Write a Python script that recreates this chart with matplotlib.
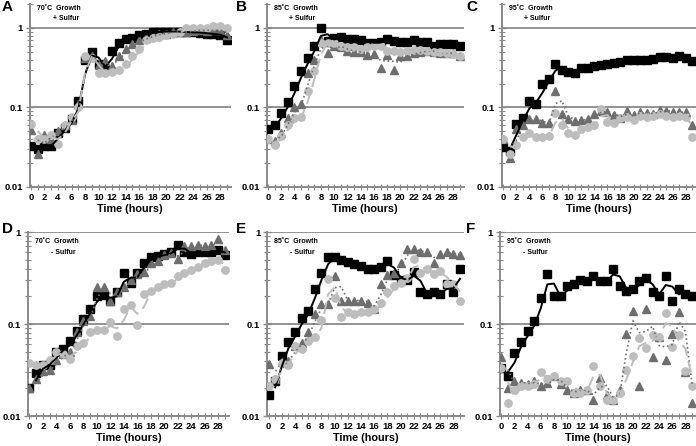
import numpy as np
import pandas as pd
import matplotlib
matplotlib.use('Agg')
import matplotlib.pyplot as plt

plt.rcParams['font.family'] = ['Liberation Sans', 'DejaVu Sans']
plt.rcParams['font.weight'] = 'bold'

hours = list(range(30))

# A: 70C + sulfur
a_sq = [0.033, 0.030, 0.033, 0.033, 0.048, 0.055, 0.072, 0.12, 0.40, 0.50, 0.35, 0.30, 0.52, 0.65, 0.72, 0.75,
        0.82, 0.85, 0.88, 0.90, 0.90, 0.90, 0.90, 0.88, 0.88, 0.87, 0.85, 0.83, 0.82, 0.70]
a_tri = [0.052, 0.026, 0.045, 0.040, 0.050, 0.060, 0.070, 0.11, 0.42, 0.45, 0.34, 0.38, 0.33, 0.45, 0.55, 0.62,
         0.70, 0.75, 0.80, 0.85, 0.85, 0.90, 0.88, 0.90, 0.92, 0.95, 0.92, 0.95, 0.93, 0.82]
a_cir = [0.062, 0.040, 0.040, 0.045, 0.035, 0.060, 0.075, 0.10, 0.45, 0.42, 0.27, 0.27, 0.28, 0.30, 0.35, 0.45,
         0.55, 0.70, 0.75, 0.78, 0.82, 0.85, 0.90, 1.00, 1.00, 1.00, 1.00, 1.05, 1.05, 1.00]

# B: 85C + sulfur
b_sq = [0.054, 0.060, 0.086, 0.117, 0.184, 0.29, 0.42, 0.60, 0.99, 0.68, 0.75, 0.78, 0.73, 0.73, 0.70, 0.65,
        0.65, 0.66, 0.72, 0.68, 0.67, 0.67, 0.70, 0.67, 0.67, 0.60, 0.62, 0.63, 0.63, 0.60]
b_tri = [0.040, 0.038, 0.048, 0.073, 0.10, 0.11, 0.27, 0.40, 0.70, 0.49, 0.60, 0.57, 0.52, 0.50, 0.50, 0.46,
         0.47, 0.31, 0.46, 0.30, 0.44, 0.45, 0.48, 0.50, 0.52, 0.50, 0.48, 0.48, 0.48, 0.45]
b_cir = [0.040, 0.034, 0.044, 0.060, 0.073, 0.075, 0.16, 0.29, 0.64, 0.65, 0.64, 0.60, 0.58, 0.57, 0.55, 0.58,
         0.60, 0.60, 0.51, 0.51, 0.50, 0.52, 0.53, 0.53, 0.52, 0.50, 0.50, 0.48, 0.47, 0.44]

# C: 95C + sulfur
c_sq = [0.032, 0.028, 0.062, 0.074, 0.12, 0.11, 0.195, 0.23, 0.35, 0.30, 0.28, 0.27, 0.31, 0.31, 0.33, 0.34,
        0.35, 0.36, 0.37, 0.39, 0.39, 0.40, 0.40, 0.41, 0.43, 0.43, 0.42, 0.44, 0.42, 0.38]
c_tri = [0.040, 0.023, 0.054, 0.060, 0.072, 0.072, 0.063, 0.063, 0.16, 0.083, 0.072, 0.068, 0.070, 0.072, 0.083, 0.090,
         0.087, 0.080, 0.074, 0.090, 0.080, 0.087, 0.085, 0.083, 0.093, 0.090, 0.088, 0.087, 0.087, 0.060]
c_cir = [0.040, 0.026, 0.034, 0.043, 0.048, 0.042, 0.042, 0.044, 0.085, 0.060, 0.048, 0.045, 0.053, 0.057, 0.060, 0.095,
         0.065, 0.063, 0.074, 0.075, 0.070, 0.077, 0.076, 0.079, 0.083, 0.079, 0.076, 0.079, 0.076, 0.042]

# D: 70C - sulfur
d_sq = [0.020, 0.029, 0.036, 0.036, 0.050, 0.053, 0.065, 0.084, 0.113, 0.147, 0.20, 0.205, 0.18, 0.22, 0.355, 0.28,
        0.36, 0.46, 0.53, 0.55, 0.57, 0.60, 0.72, 0.60, 0.58, 0.60, 0.60, 0.60, 0.64, 0.56]
d_tri = [0.020, 0.025, 0.031, 0.032, 0.041, 0.047, 0.050, 0.082, 0.108, 0.122, 0.25, 0.25, 0.178, 0.22, 0.25, 0.30,
         0.35, 0.37, 0.46, 0.48, 0.56, 0.59, 0.51, 0.70, 0.70, 0.73, 0.70, 0.72, 0.83, 0.63]
d_cir = [0.038, 0.036, 0.036, 0.041, 0.050, 0.047, 0.042, 0.057, 0.062, 0.082, 0.085, 0.085, 0.105, 0.074, 0.147, 0.16,
         0.098, 0.21, 0.23, 0.25, 0.27, 0.28, 0.33, 0.36, 0.39, 0.42, 0.46, 0.48, 0.50, 0.39]

# E: 85C - sulfur
e_sq = [0.017, 0.024, 0.045, 0.064, 0.082, 0.116, 0.14, 0.24, 0.36, 0.53, 0.53, 0.50, 0.47, 0.45, 0.43, 0.40,
        0.40, 0.42, 0.48, 0.34, 0.30, 0.30, 0.37, 0.22, 0.21, 0.22, 0.21, 0.27, 0.22, 0.40]
e_tri = [0.037, 0.025, 0.039, 0.040, 0.058, 0.062, 0.082, 0.13, 0.165, 0.165, 0.33, 0.18, 0.18, 0.18, 0.18, 0.17,
         0.145, 0.27, 0.34, 0.36, 0.46, 0.65, 0.65, 0.60, 0.60, 0.46, 0.58, 0.60, 0.58, 0.56]
e_cir = [0.021, 0.025, 0.038, 0.036, 0.058, 0.053, 0.065, 0.072, 0.11, 0.31, 0.19, 0.12, 0.135, 0.13, 0.135, 0.135,
         0.145, 0.17, 0.22, 0.26, 0.28, 0.32, 0.51, 0.36, 0.40, 0.35, 0.38, 0.27, 0.27, 0.18]

# F: 95C - sulfur
f_sq = [0.033, 0.027, 0.049, 0.064, 0.084, 0.107, 0.19, 0.35, 0.20, 0.20, 0.26, 0.27, 0.30, 0.29, 0.33, 0.29,
        0.29, 0.40, 0.26, 0.23, 0.24, 0.29, 0.32, 0.22, 0.20, 0.33, 0.18, 0.24, 0.21, 0.20]
f_tri = [0.044, 0.020, 0.024, 0.023, 0.022, 0.024, 0.021, 0.023, 0.027, 0.022, 0.019, 0.018, 0.019, 0.019, 0.015, 0.026,
         0.017, 0.015, 0.019, 0.078, 0.14, 0.021, 0.145, 0.044, 0.072, 0.041, 0.078, 0.135, 0.030, 0.014]
f_cir = [0.033, 0.014, 0.019, 0.021, 0.021, 0.022, 0.030, 0.025, 0.027, 0.024, 0.024, 0.018, 0.018, 0.019, 0.035, 0.021,
         0.015, 0.015, 0.018, 0.032, 0.045, 0.070, 0.055, 0.076, 0.072, 0.133, 0.056, 0.076, 0.031, 0.021]

letters = ['A', 'B', 'C', 'D', 'E', 'F']
temps = ['70˚C', '85˚C', '95˚C', '70˚C', '85˚C', '95˚C']
sulfur = ['+ Sulfur', '+ Sulfur', '+ Sulfur', '- Sulfur', '- Sulfur', '- Sulfur']
panels = [(a_sq, a_tri, a_cir), (b_sq, b_tri, b_cir), (c_sq, c_tri, c_cir),
          (d_sq, d_tri, d_cir), (e_sq, e_tri, e_cir), (f_sq, f_tri, f_cir)]

W, H = 696, 446
# axes boxes in pixels: left, top, right, bottom
boxes = [(29.6, 4, 231, 187), (266.6, 4, 464, 187), (502, 4, 696, 187),
         (28, 232, 229, 416), (267.3, 232, 464, 416), (500, 232, 696, 416)]

gray = '#8a8a8a'
dark = '#6e6e6e'
light = '#bdbdbd'

fig = plt.figure(figsize=(W / 100, H / 100), dpi=100)

for i in range(6):
    l, t, r, b = boxes[i]
    ax = fig.add_axes([l / W, 1 - b / H, (r - l) / W, (b - t) / H])
    sq, tri, cir = panels[i]
    df = pd.DataFrame({'h': hours, 'sq': sq, 'tri': tri, 'cir': cir})

    ax.set_yscale('log')
    top = 2 if i < 3 else 1
    ax.set_ylim(0.01, top)
    ax.set_xlim(-0.2, 29.6)
    for g in [0.1, 1]:
        ax.axhline(g, color=gray, lw=1.3, zorder=1)

    ax.plot(df['h'], df['sq'], 's', color='black', ms=5.3, zorder=3)
    ax.plot(df['h'], df['tri'], '^', color=dark, ms=6, zorder=4)
    ax.plot(df['h'], df['cir'], 'o', color=light, ms=5.3, zorder=5)
    # 2-point moving average trendlines
    ax.plot(df['h'], df['sq'].rolling(2).mean(), '-', color='black', lw=1.4, zorder=6)
    ax.plot(df['h'], df['tri'].rolling(2).mean(), ':', color=dark, lw=1.2, zorder=6)
    ax.plot(df['h'], df['cir'].rolling(2).mean(), color=light, lw=1.4, ls=(0, (6, 3)), zorder=6)

    for s in ['top', 'right']:
        ax.spines[s].set_visible(False)
    for s in ['left', 'bottom']:
        ax.spines[s].set_color(gray)
        ax.spines[s].set_linewidth(1.4)

    ax.set_yticks([0.01, 0.1, 1])
    ax.set_yticklabels(['0.01', '0.1', '1'])
    ax.set_xticks(range(0, 29, 2))
    ax.set_xticks(range(0, 30), minor=True)
    ax.tick_params(axis='both', which='both', direction='inout', color=gray, labelsize=6.8, pad=2)
    ax.tick_params(axis='y', which='major', length=6, width=1)
    ax.tick_params(axis='y', which='minor', length=4, width=0.8)
    ax.tick_params(axis='x', which='major', length=4, width=0.8)
    ax.tick_params(axis='x', which='minor', length=4, width=0.8)
    for lab in ax.get_xticklabels() + ax.get_yticklabels():
        lab.set_fontweight('bold')
    ax.set_xlabel('Time (hours)', fontsize=7.8, fontweight='bold', labelpad=2)

    ax.text(0.035, 0.995 if i < 3 else 0.965, temps[i] + '  Growth', transform=ax.transAxes,
            fontsize=5, fontweight='bold', va='top', ha='left')
    ax.text(0.115, 0.94 if i < 3 else 0.91, sulfur[i], transform=ax.transAxes,
            fontsize=5, fontweight='bold', va='top', ha='left')

    # panel letters
    lx = [2, 236, 466, 2, 236, 466][i]
    ly = [7, 7, 7, 229, 229, 229][i]
    fig.text(lx / W, 1 - ly / H, letters[i], fontsize=11, fontweight='bold', va='center', ha='left')

fig.savefig('out.png', dpi=100)
